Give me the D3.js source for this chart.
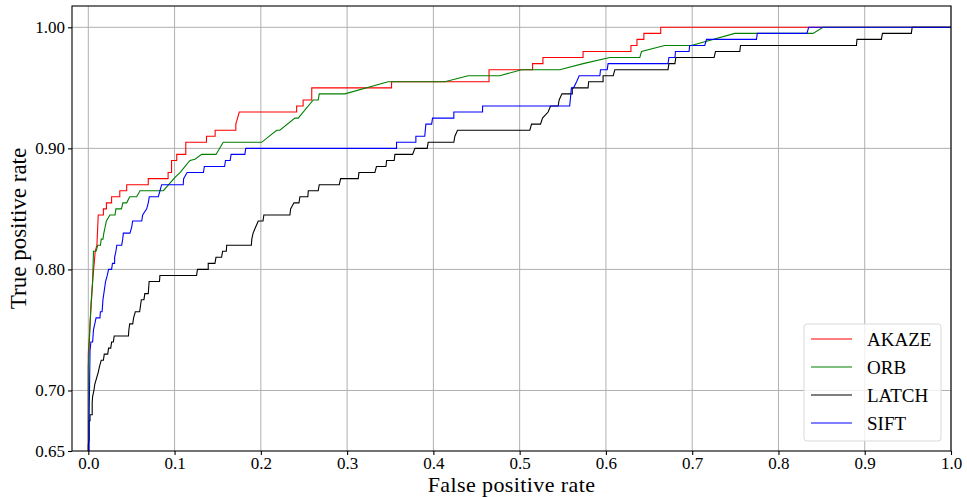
<!DOCTYPE html>
<html>
<head>
<meta charset="utf-8">
<script src="https://cdn.jsdelivr.net/npm/d3@7/dist/d3.min.js"></script>
<style>
  html, body { margin: 0; padding: 0; background: #fff; }
  svg { display: block; }
  text { font-family: "Liberation Serif", "DejaVu Serif", serif; fill: #000; }
</style>
</head>
<body>
<svg id="chart" width="967" height="497"></svg>
<script>
// ROC curves: [false positive rate, true positive rate] vertices per descriptor
const akaze = [
  [0,0],[0,0.73],[0.002,0.755],[0.005,0.79],[0.008,0.815],[0.010,0.82],[0.0115,0.845],
  [0.0175,0.845],[0.0175,0.85],[0.021,0.85],[0.021,0.855],[0.027,0.855],[0.027,0.86],
  [0.0365,0.86],[0.0365,0.865],[0.0445,0.865],[0.0445,0.87],[0.0695,0.87],[0.0695,0.875],
  [0.0925,0.875],[0.0925,0.88],[0.0965,0.88],[0.0965,0.89],[0.1025,0.89],[0.1025,0.895],
  [0.113,0.895],[0.113,0.905],[0.137,0.905],[0.137,0.91],[0.147,0.91],[0.147,0.915],
  [0.171,0.915],[0.171,0.92],[0.173,0.925],[0.175,0.93],[0.2415,0.93],[0.2415,0.935],
  [0.249,0.935],[0.249,0.94],[0.259,0.94],[0.259,0.95],[0.3515,0.95],[0.3515,0.955],
  [0.4645,0.955],[0.4645,0.965],[0.515,0.965],[0.515,0.97],[0.527,0.97],[0.527,0.975],
  [0.5735,0.975],[0.5735,0.98],[0.629,0.98],[0.629,0.985],[0.636,0.985],[0.636,0.99],
  [0.644,0.99],[0.644,0.995],[0.6635,0.995],[0.6635,1.0],[1,1]
];
const orb = [
  [0,0],[0,0.72],[0.003,0.77],[0.005,0.79],[0.006,0.815],[0.009,0.815],[0.011,0.82],
  [0.014,0.82],[0.015,0.825],[0.017,0.825],[0.018,0.83],[0.021,0.84],[0.025,0.845],
  [0.031,0.845],[0.032,0.85],[0.0385,0.85],[0.040,0.855],[0.0445,0.855],[0.048,0.86],
  [0.056,0.86],[0.060,0.865],[0.087,0.865],[0.1005,0.876],[0.1063,0.88],[0.1178,0.89],
  [0.1236,0.891],[0.1314,0.895],[0.148,0.895],[0.1564,0.905],[0.2009,0.905],
  [0.2183,0.915],[0.222,0.915],[0.2395,0.925],[0.2433,0.925],[0.2607,0.94],
  [0.2665,0.94],[0.2677,0.945],[0.2975,0.945],[0.3475,0.955],[0.4133,0.955],
  [0.4403,0.96],[0.477,0.96],[0.5022,0.965],[0.5464,0.965],[0.5736,0.97],
  [0.6045,0.975],[0.6393,0.975],[0.6412,0.98],[0.668,0.985],[0.699,0.985],
  [0.7494,0.995],[0.840,0.995],[0.8517,1.0],[1,1]
];
const latch = [
  [0,0],[0,0.655],[0.001,0.66],[0.001,0.675],[0.002,0.675],[0.002,0.68],[0.0045,0.68],
  [0.0045,0.69],[0.005,0.695],[0.0065,0.70],[0.0075,0.705],[0.0095,0.71],[0.0115,0.715],
  [0.013,0.72],[0.015,0.725],[0.0175,0.725],[0.0185,0.73],[0.0225,0.73],[0.0235,0.735],
  [0.026,0.735],[0.027,0.74],[0.029,0.74],[0.030,0.745],[0.0465,0.745],[0.047,0.75],
  [0.048,0.755],[0.0515,0.755],[0.0525,0.76],[0.0545,0.765],[0.0595,0.765],[0.0605,0.77],
  [0.0615,0.775],[0.0645,0.775],[0.0655,0.78],[0.0695,0.78],[0.070,0.785],[0.0705,0.79],
  [0.0825,0.79],[0.083,0.795],[0.1255,0.795],[0.1265,0.80],[0.139,0.80],[0.139,0.805],
  [0.1468,0.805],[0.148,0.81],[0.1545,0.81],[0.1557,0.815],[0.160,0.815],[0.1604,0.82],
  [0.189,0.82],[0.1895,0.825],[0.191,0.83],[0.194,0.835],[0.197,0.84],[0.2025,0.84],
  [0.2035,0.845],[0.2337,0.845],[0.2345,0.85],[0.2384,0.855],[0.2442,0.855],
  [0.2453,0.86],[0.2545,0.86],[0.255,0.865],[0.2665,0.865],[0.2677,0.87],[0.2909,0.87],
  [0.2925,0.875],[0.3129,0.875],[0.3137,0.88],[0.3322,0.88],[0.334,0.885],[0.345,0.885],
  [0.3458,0.89],[0.3546,0.89],[0.3554,0.895],[0.3759,0.895],[0.3786,0.90],[0.3928,0.90],
  [0.394,0.905],[0.4237,0.905],[0.4249,0.91],[0.428,0.915],[0.5118,0.915],[0.5138,0.92],
  [0.5242,0.92],[0.5265,0.925],[0.533,0.93],[0.5358,0.935],[0.5446,0.935],[0.5458,0.94],
  [0.549,0.945],[0.561,0.945],[0.561,0.95],[0.5793,0.95],[0.580,0.955],[0.5967,0.955],
  [0.5967,0.96],[0.6085,0.96],[0.6103,0.965],[0.672,0.965],[0.673,0.97],[0.680,0.97],
  [0.681,0.975],[0.7254,0.975],[0.727,0.98],[0.7552,0.98],[0.756,0.985],[0.8904,0.985],
  [0.891,0.99],[0.9193,0.99],[0.9205,0.995],[0.954,0.995],[0.955,1.0],[1,1]
];
const sift = [
  [0,0],[0.001,0.678],[0.002,0.733],[0.003,0.74],[0.005,0.74],[0.006,0.75],[0.0075,0.755],
  [0.009,0.76],[0.0135,0.76],[0.014,0.765],[0.016,0.765],[0.017,0.775],[0.018,0.78],
  [0.019,0.785],[0.020,0.79],[0.022,0.795],[0.0235,0.80],[0.027,0.80],[0.028,0.805],
  [0.0305,0.805],[0.0305,0.81],[0.032,0.815],[0.033,0.82],[0.0387,0.82],[0.0399,0.825],
  [0.0406,0.83],[0.0483,0.83],[0.0503,0.835],[0.0514,0.84],[0.0619,0.84],[0.063,0.845],
  [0.0677,0.85],[0.0695,0.855],[0.0707,0.86],[0.0811,0.86],[0.0831,0.865],[0.085,0.87],
  [0.110,0.87],[0.1105,0.875],[0.1145,0.88],[0.1335,0.88],[0.1345,0.885],[0.158,0.885],
  [0.159,0.89],[0.1645,0.89],[0.1655,0.895],[0.1815,0.895],[0.1825,0.90],[0.3573,0.90],
  [0.3573,0.905],[0.3797,0.905],[0.3797,0.91],[0.390,0.91],[0.3913,0.92],[0.398,0.92],
  [0.399,0.925],[0.4237,0.925],[0.4237,0.93],[0.457,0.93],[0.457,0.935],[0.558,0.935],
  [0.560,0.95],[0.5625,0.95],[0.566,0.955],[0.569,0.96],[0.593,0.96],[0.5937,0.965],
  [0.6015,0.965],[0.6025,0.97],[0.672,0.97],[0.673,0.975],[0.680,0.975],[0.6806,0.98],
  [0.6964,0.98],[0.697,0.985],[0.7146,0.985],[0.7166,0.99],[0.7745,0.99],[0.7755,0.995],
  [0.833,0.995],[0.835,1.0],[1,1]
];

const seriesNames = ["AKAZE", "ORB", "LATCH", "SIFT"];
const seriesColors = ["#ff0000", "#008000", "#000000", "#0000ff"];
const seriesData = [akaze, orb, latch, sift];

const xTicks = [0, 0.1, 0.2, 0.3, 0.4, 0.5, 0.6, 0.7, 0.8, 0.9, 1.0];
const yTicks = [0.65, 0.70, 0.80, 0.90, 1.00];
const xLabel = "False positive rate";
const yLabel = "True positive rate";

// plot frame
const frame = { left: 72, right: 951, top: 6, bottom: 451 };

const svg = d3.select("#chart");
const x = d3.scaleLinear().domain([-0.0189, 1.0]).range([frame.left, frame.right]);
const y = d3.scaleLinear().domain([0.65, 1.0176]).range([frame.bottom, frame.top]);

svg.append("defs").append("clipPath").attr("id", "plot-clip")
  .append("rect").attr("x", frame.left).attr("y", frame.top)
  .attr("width", frame.right - frame.left).attr("height", frame.bottom - frame.top);

// grid
const grid = svg.append("g").attr("stroke", "#b0b0b0").attr("stroke-width", 1);
grid.selectAll("line.gx").data(xTicks).join("line")
  .attr("x1", d => x(d)).attr("x2", d => x(d))
  .attr("y1", frame.top).attr("y2", frame.bottom);
grid.selectAll("line.gy").data(yTicks.filter(d => d > 0.65)).join("line")
  .attr("x1", frame.left).attr("x2", frame.right)
  .attr("y1", d => y(d)).attr("y2", d => y(d));

// curves
const line = d3.line().x(d => x(d[0])).y(d => y(d[1]));
svg.append("g").attr("clip-path", "url(#plot-clip)")
  .selectAll("path").data(seriesData).join("path")
  .attr("d", line)
  .attr("fill", "none")
  .attr("stroke", (d, i) => seriesColors[i])
  .attr("stroke-width", 1.1)
  .attr("stroke-linejoin", "miter");

// frame
svg.append("rect").attr("x", frame.left).attr("y", frame.top)
  .attr("width", frame.right - frame.left).attr("height", frame.bottom - frame.top)
  .attr("fill", "none").attr("stroke", "#000").attr("stroke-width", 1.1);

// axes
const xAxis = svg.append("g").attr("transform", `translate(0,${frame.bottom})`)
  .call(d3.axisBottom(x).tickValues(xTicks).tickFormat(d3.format(".1f"))
    .tickSizeInner(4).tickSizeOuter(0).tickPadding(1.5));
const yAxis = svg.append("g").attr("transform", `translate(${frame.left},0)`)
  .call(d3.axisLeft(y).tickValues(yTicks).tickFormat(d3.format(".2f"))
    .tickSizeInner(4).tickSizeOuter(0).tickPadding(3));
[xAxis, yAxis].forEach(g => {
  g.select(".domain").remove();
  g.selectAll(".tick line").attr("stroke", "#000").attr("stroke-width", 1.1);
  g.selectAll(".tick text").style("font-family", '"Liberation Serif", serif')
    .style("font-size", "17px").attr("fill", "#000");
});

svg.append("text").attr("x", (frame.left + frame.right) / 2).attr("y", 492)
  .attr("text-anchor", "middle").style("font-size", "22px")
  .style("letter-spacing", "0.4px").text(xLabel);
svg.append("text")
  .attr("transform", `translate(26,${(frame.top + frame.bottom) / 2}) rotate(-90)`)
  .attr("text-anchor", "middle").style("font-size", "23px").text(yLabel);

// legend
const lg = svg.append("g");
lg.append("rect").attr("x", 804).attr("y", 324).attr("width", 137).attr("height", 117)
  .attr("rx", 3).attr("fill", "#fff").attr("fill-opacity", 0.8)
  .attr("stroke", "#d9d9d9").attr("stroke-width", 1);
seriesNames.forEach((name, i) => {
  const cy = 339 + i * 28;
  lg.append("line").attr("x1", 811).attr("x2", 852).attr("y1", cy).attr("y2", cy)
    .attr("stroke", seriesColors[i]).attr("stroke-width", 1.1);
  lg.append("text").attr("x", 867).attr("y", cy).attr("dy", "0.35em")
    .style("font-size", "19px").text(name);
});
</script>
</body>
</html>
